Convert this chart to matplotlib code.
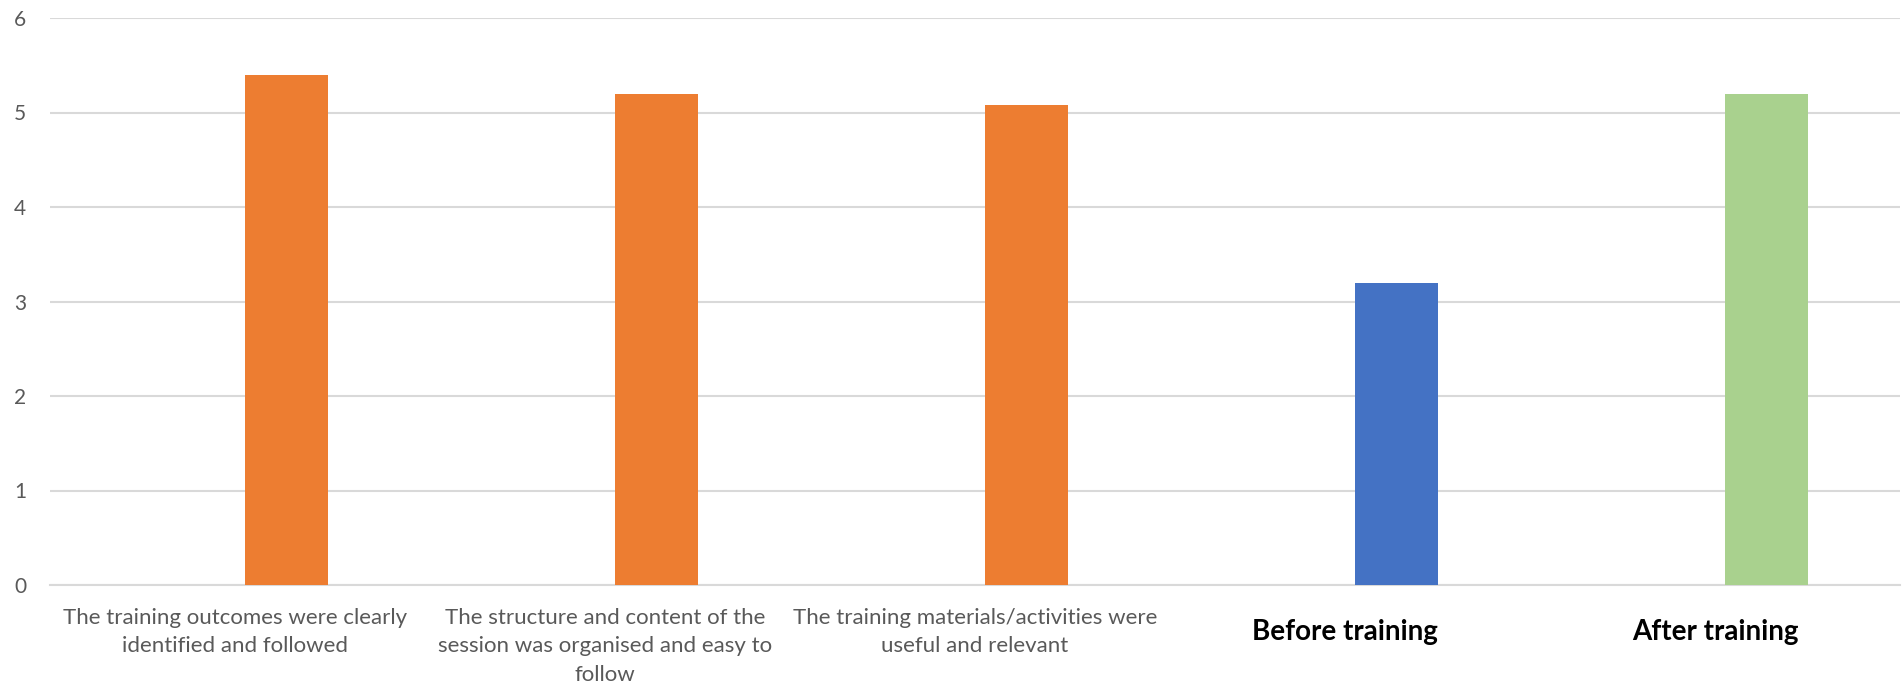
"""Bar chart: training feedback ratings and before/after scores."""

import matplotlib.pyplot as plt
import matplotlib.transforms as mtransforms

CATEGORIES = [
    "The training outcomes were clearly\nidentified and followed",
    "The structure and content of the\nsession was organised and easy to\nfollow",
    "The training materials/activities were\nuseful and relevant",
    "Before training",
    "After training",
]
VALUES = [5.40, 5.20, 5.08, 3.20, 5.20]
BAR_COLORS = ["#ED7D31", "#ED7D31", "#ED7D31", "#4472C4", "#A9D18E"]
BOLD_LABELS = [False, False, False, True, True]
Y_TICKS = [0, 1, 2, 3, 4, 5, 6]

plt.rcParams["font.family"] = ["Lato", "DejaVu Sans"]

fig = plt.figure(figsize=(19.03, 6.85), dpi=100)
ax = fig.add_axes([50 / 1903, 1 - 585 / 685, 1850 / 1903, (585 - 18) / 685])

x = list(range(len(CATEGORIES)))
bar_x = [i + 0.14 for i in x]
ax.bar(bar_x, VALUES, width=0.225, color=BAR_COLORS, zorder=3)

ax.set_xlim(-0.5, len(CATEGORIES) - 0.5)
ax.set_ylim(0, 6)
ax.set_yticks(Y_TICKS)
ax.set_yticklabels([str(t) for t in Y_TICKS], fontsize=15, color="#595959")
ax.yaxis.grid(True, color="#D9D9D9", linewidth=1.5, zorder=0)
ax.tick_params(axis="y", length=0, pad=17)
ax.tick_params(axis="x", length=0)
ax.set_xticks(x)
ax.set_xticklabels([])
for side in ["top", "right", "left"]:
    ax.spines[side].set_visible(False)
ax.spines["bottom"].set_color("#D9D9D9")
ax.spines["bottom"].set_linewidth(1.5)

trans = mtransforms.blended_transform_factory(ax.transData, ax.transAxes)
for xi, label, bold in zip(x, CATEGORIES, BOLD_LABELS):
    if bold:
        ax.text(xi, -0.060, label, transform=trans, ha="center", va="top",
                fontsize=20, fontweight="bold", color="black")
    else:
        ax.text(xi, -0.040, label, transform=trans, ha="center", va="top",
                fontsize=16, color="#595959", linespacing=1.55)

fig.savefig("out.png", dpi=100)
